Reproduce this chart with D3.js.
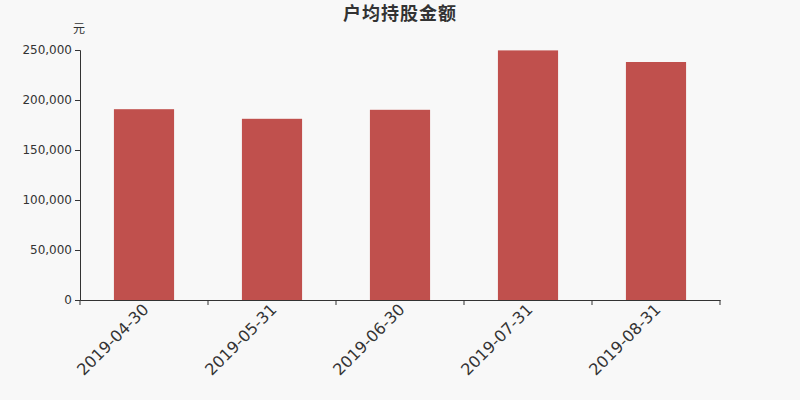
<!DOCTYPE html>
<html>
<head>
<meta charset="utf-8">
<script src="https://cdn.jsdelivr.net/npm/d3@7"></script>
<style>
  body { margin: 0; background: #f8f8f8; }
  svg { display: block; font-family: "DejaVu Sans", sans-serif; }
</style>
</head>
<body>
<div id="chart"></div>
<script>
const dates = ["2019-04-30", "2019-05-31", "2019-06-30", "2019-07-31", "2019-08-31"];
const amounts = [190800, 181200, 190200, 249600, 238000];
const yTicks = [0, 50000, 100000, 150000, 200000, 250000];

const size = {width: 800, height: 400};
const margin = {top: 50, right: 80, bottom: 100, left: 80};
const width = size.width - margin.left - margin.right;
const height = size.height - margin.top - margin.bottom;

const svg = d3.select("#chart").append("svg")
    .attr("width", size.width)
    .attr("height", size.height);

svg.append("rect")
    .attr("width", size.width)
    .attr("height", size.height)
    .attr("fill", "#f8f8f8");

svg.append("text")
    .attr("x", 400)
    .attr("y", 20)
    .attr("text-anchor", "middle")
    .attr("font-family", "'Noto Sans CJK SC', sans-serif")
    .attr("font-size", 18)
    .attr("font-weight", "bold")
    .attr("letter-spacing", 1)
    .attr("fill", "#333")
    .text("户均持股金额");

const g = svg.append("g")
    .attr("transform", "translate(" + margin.left + "," + margin.top + ")");

const data = dates.map((d, i) => ({date: d, value: amounts[i]}));

const xScale = d3.scaleBand()
    .domain(dates)
    .range([0, width])
    .paddingInner(0.53)
    .paddingOuter(0.265);

const yScale = d3.scaleLinear()
    .domain([0, 250000])
    .range([height, 0]);

// unit label
g.append("text")
    .attr("x", -1)
    .attr("y", -17)
    .attr("text-anchor", "middle")
    .attr("font-family", "'Noto Sans CJK SC', sans-serif")
    .attr("font-size", 12)
    .attr("fill", "#333")
    .text("元");

// bars
g.selectAll(".barRect")
    .data(data)
    .join("rect")
    .attr("class", "barRect")
    .attr("fill", "#c0504d")
    .attr("x", d => xScale(d.date))
    .attr("y", d => yScale(d.value))
    .attr("width", xScale.bandwidth())
    .attr("height", d => yScale(0) - yScale(d.value));

// y axis
const yAxisG = g.append("g")
    .call(d3.axisLeft(yScale).tickValues(yTicks).tickSize(5).tickPadding(3).tickFormat(d3.format(",")));
yAxisG.select(".domain").attr("stroke", "#333");
yAxisG.selectAll(".tick line").attr("stroke", "#333");
yAxisG.selectAll("text")
    .attr("fill", "#333")
    .attr("font-size", 12)
    .attr("font-family", "'DejaVu Sans', sans-serif");

// x axis: labels centred on bands, ticks on band boundaries
const xAxisG = g.append("g")
    .attr("transform", "translate(0," + height + ")")
    .call(d3.axisBottom(xScale).tickSize(0).tickPadding(8).tickSizeOuter(0));
xAxisG.select(".domain").attr("stroke", "#333");
xAxisG.selectAll("text")
    .attr("fill", "#333")
    .attr("font-size", 16)
    .attr("font-family", "'DejaVu Sans', sans-serif")
    .style("text-anchor", "end")
    .attr("dy", "0.35em")
    .attr("transform", "translate(-4,1) rotate(-45)");

const gap = xScale.step() - xScale.bandwidth();
const bounds = dates.map(d => xScale(d) - gap / 2).concat([xScale(dates[dates.length - 1]) + xScale.bandwidth() + gap / 2]);
xAxisG.selectAll(".bound")
    .data(bounds)
    .join("line")
    .attr("class", "bound")
    .attr("x1", d => d).attr("x2", d => d)
    .attr("y1", 0).attr("y2", 5)
    .attr("stroke", "#333");
</script>
</body>
</html>
